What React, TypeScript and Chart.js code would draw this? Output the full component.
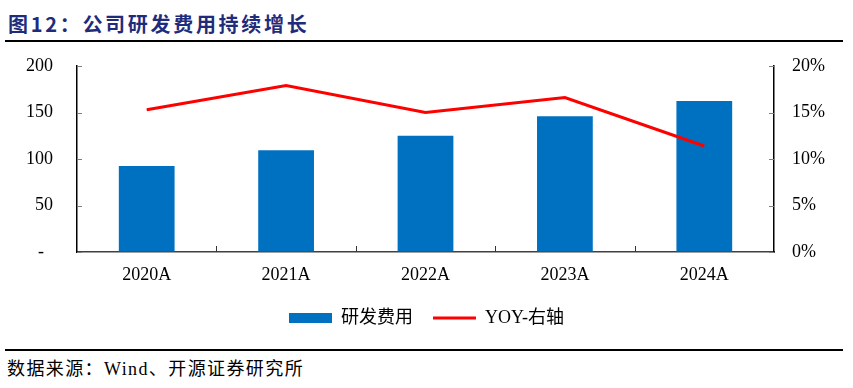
import React, { useEffect, useRef } from "react";
import { Chart, registerables } from "chart.js";

Chart.register(...registerables);

const categories = ["2020A", "2021A", "2022A", "2023A", "2024A"];
const rdExpense = [92.5, 109.4, 125.0, 145.9, 162.4];
const yoyPct = [15.3, 17.9, 15.0, 16.6, 11.4];
const leftTicks = [0, 50, 100, 150, 200];
const rightTicks = [0, 5, 10, 15, 20];

const SERIF = "'Liberation Serif', 'Noto Sans CJK SC', serif";

const tickMarks = {
  id: "tickMarks",
  afterDraw(chart: any) {
    const ctx = chart.ctx;
    const x = chart.scales.x;
    const y = chart.scales.y;
    const y1 = chart.scales.y1;
    const area = chart.chartArea;
    ctx.save();
    ctx.strokeStyle = "#7f7f7f";
    ctx.lineWidth = 1;
    leftTicks.forEach((v) => {
      const py = Math.round(y.getPixelForValue(v)) + 0.5;
      ctx.beginPath();
      ctx.moveTo(area.left, py);
      ctx.lineTo(area.left + 5, py);
      ctx.stroke();
    });
    rightTicks.forEach((v) => {
      const py = Math.round(y1.getPixelForValue(v)) + 0.5;
      ctx.beginPath();
      ctx.moveTo(area.right - 5, py);
      ctx.lineTo(area.right, py);
      ctx.stroke();
    });
    ctx.strokeStyle = "#333";
    for (let i = 0; i < categories.length - 1; i++) {
      const px = Math.round((x.getPixelForTick(i) + x.getPixelForTick(i + 1)) / 2) + 0.5;
      ctx.beginPath();
      ctx.moveTo(px, area.bottom);
      ctx.lineTo(px, area.bottom - 6);
      ctx.stroke();
    }
    ctx.restore();
  },
};

const noVerticalPad = (s: any, width: number) => {
  s.width = width;
  s.paddingTop = 0;
  s.paddingBottom = 0;
};

export default function App() {
  const canvasRef = useRef<HTMLCanvasElement>(null);

  useEffect(() => {
    const chart = new Chart(canvasRef.current!, {
      type: "bar",
      data: {
        labels: categories,
        datasets: [
          {
            type: "bar",
            label: "研发费用",
            data: rdExpense,
            backgroundColor: "#0070C0",
            borderWidth: 0,
            barPercentage: 0.4,
            categoryPercentage: 1,
            yAxisID: "y",
            order: 1,
          },
          {
            type: "line",
            label: "YOY-右轴",
            data: yoyPct,
            borderColor: "#FF0000",
            backgroundColor: "#FF0000",
            borderWidth: 3,
            pointRadius: 0,
            pointStyle: "line",
            tension: 0,
            yAxisID: "y1",
            order: 0,
          } as any,
        ],
      },
      options: {
        animation: false,
        responsive: false,
        devicePixelRatio: 1,
        layout: { padding: { top: 18, bottom: 8, left: 0, right: 0 } },
        plugins: {
          tooltip: { enabled: false },
          legend: {
            position: "bottom",
            labels: {
              usePointStyle: true,
              pointStyleWidth: 43,
              boxHeight: 10,
              padding: 20,
              color: "#000",
              font: { family: SERIF, size: 18 },
              sort: (a: any, b: any) => a.datasetIndex - b.datasetIndex,
              generateLabels: (chart: any) =>
                chart.data.datasets.map((ds: any, i: number) => ({
                  text: ds.label,
                  fillStyle: ds.type === "line" ? "#FF0000" : "#0070C0",
                  strokeStyle: ds.type === "line" ? "#FF0000" : "#0070C0",
                  lineWidth: ds.type === "line" ? 3 : 0,
                  pointStyle: ds.type === "line" ? "line" : "rect",
                  datasetIndex: i,
                  hidden: false,
                })),
            },
          },
        },
        scales: {
          x: {
            offset: true,
            grid: { display: true, drawOnChartArea: false, drawTicks: false },
            border: { display: true, color: "#404040", width: 1.5 },
            ticks: {
              color: "#000",
              padding: 12,
              font: { family: SERIF, size: 18 },
            },
            afterFit: (s: any) => {
              s.height = 37;
            },
          },
          y: {
            position: "left",
            min: 0,
            max: 200,
            grid: { display: true, drawOnChartArea: false, drawTicks: false },
            border: { display: true, color: "#000", width: 1.5 },
            afterBuildTicks: (s: any) => {
              s.ticks = leftTicks.map((v) => ({ value: v }));
            },
            ticks: {
              color: "#000",
              padding: 24,
              font: { family: SERIF, size: 18 },
              callback: (v: any) => (Number(v) === 0 ? "-  " : String(v)),
            },
            afterFit: (s: any) => noVerticalPad(s, 77),
          },
          y1: {
            position: "right",
            min: 0,
            max: 20,
            grid: { display: true, drawOnChartArea: false, drawTicks: false },
            border: { display: true, color: "#000", width: 1.5 },
            afterBuildTicks: (s: any) => {
              s.ticks = rightTicks.map((v) => ({ value: v }));
            },
            ticks: {
              color: "#000",
              padding: 18,
              font: { family: SERIF, size: 18 },
              callback: (v: any) => `${v}%`,
            },
            afterFit: (s: any) => noVerticalPad(s, 79),
          },
        },
      },
      plugins: [tickMarks],
    });
    return () => chart.destroy();
  }, []);

  return (
    <div
      style={{
        position: "fixed",
        left: 0,
        top: 0,
        width: 853,
        height: 388,
        background: "#fff",
        overflow: "hidden",
      }}
    >
      <div
        style={{
          position: "absolute",
          left: 8,
          top: 14,
          fontFamily: "'Noto Sans CJK SC', sans-serif",
          fontWeight: 700,
          fontSize: 20,
          lineHeight: "20px",
          letterSpacing: 2.7,
          color: "#1F2C7C",
          whiteSpace: "nowrap",
        }}
      >
        图12：公司研发费用持续增长
      </div>
      <div
        style={{
          position: "absolute",
          left: 5,
          top: 40,
          width: 838,
          height: 2,
          background: "#000",
        }}
      />
      <canvas
        ref={canvasRef}
        width={853}
        height={297}
        style={{ position: "absolute", left: 0, top: 48, width: 853, height: 297 }}
      />
      <div
        style={{
          position: "absolute",
          left: 5,
          top: 349,
          width: 838,
          height: 2,
          background: "#000",
        }}
      />
      <div
        style={{
          position: "absolute",
          left: 7,
          top: 359,
          fontFamily: SERIF,
          fontSize: 18,
          lineHeight: "20px",
          letterSpacing: 1.4,
          color: "#000",
          whiteSpace: "nowrap",
        }}
      >
        数据来源：Wind、开源证券研究所
      </div>
    </div>
  );
}
